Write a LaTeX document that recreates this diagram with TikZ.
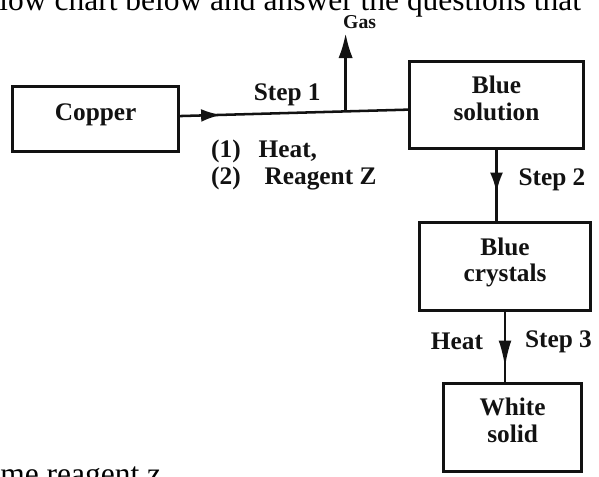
\documentclass[tikz,border=0pt]{standalone}
\usepackage{fontspec}
\setmainfont{Liberation Serif}
\usetikzlibrary{positioning,arrows.meta,decorations.markings}
\definecolor{FlowInk}{RGB}{18,18,18}
\newcommand{\flowfont}{\bfseries\fontsize{18}{19}\selectfont}
\tikzset{
  flow box/.style={
    draw=FlowInk,
    line width=2pt,
    align=center,
    font=\flowfont,
    text=FlowInk,
    inner sep=3pt,
    text depth=0.35cm
  },
  flow label/.style={font=\flowfont, text=FlowInk, inner sep=2pt},
  gas label/.style={font=\bfseries\fontsize{14}{15}\selectfont, text=FlowInk, inner sep=3pt},
  flow line/.style={draw=FlowInk, line width=1.8pt},
  flow arrow/.style={flow line, -{Latex[length=0.62cm,width=0.36cm]}},
  mid arrow/.style 2 args={postaction={decorate},
    decoration={markings, mark=at position #1 with {\arrow{Latex[length=#2,width=0.32cm]}}}},
  page text/.style={font=\fontsize{22.4}{24}\selectfont, inner sep=0pt, anchor=base west}
}

\begin{document}
\begin{tikzpicture}
\useasboundingbox (0,0) rectangle (14.975,-11.925);
\clip (0,0) rectangle (14.975,-11.925);
% page text cut by the crop
\node[page text] (head) at (-0.02,-0.27) {low chart below and answer the questions that};
\node[page text] (foot) at (0,-12.12) {me reagent z};
% boxes
\node[flow box, minimum width=4.35cm, minimum height=2.18cm] (bsol) at (12.4125,-2.625) {Blue\\solution};
\node[flow box, minimum width=4.15cm, minimum height=1.63cm, left=5.7cm of bsol, yshift=-0.35cm] (copper) {Copper};
\node[flow box, minimum width=4.28cm, minimum height=2.2cm, below=1.78cm of bsol, xshift=0.2125cm] (bcry) {Blue\\crystals};
\node[flow box, minimum width=3.45cm, minimum height=2.2cm, below=1.75cm of bcry, xshift=0.19cm] (wsol) {White\\solid};
% step 1
\draw[flow line, mid arrow={0.18}{0.5cm}] (copper.2) -- coordinate[pos=0.726] (jn)
  node[flow label, pos=0.47, above=2pt] (s1) {Step 1} (bsol.183);
\node[flow label, align=left, below right=1.3cm and 0.7cm of copper.north east] (cond)
  {(1)\hspace{0.45cm}Heat,\\(2)\hspace{0.6cm}Reagent Z};
\node[gas label, above=1.95cm of jn, xshift=0.35cm] (gas) {Gas};
\draw[flow arrow] (jn) -- (jn |- gas.south);
% step 2 and step 3
\draw[flow line, mid arrow={0.6}{0.5cm}] (bsol.south) --
  node[flow label, pos=0.42, right=0.45cm] (s2) {Step 2} (bsol.south |- bcry.north);
\draw[flow line, mid arrow={0.79}{0.67cm}] (bcry.south) --
  node[flow label, pos=0.42, left=0.45cm] (heat) {Heat}
  node[flow label, pos=0.42, right=0.4cm] (s3) {Step 3} (bcry.south |- wsol.north);
\end{tikzpicture}
\end{document}
